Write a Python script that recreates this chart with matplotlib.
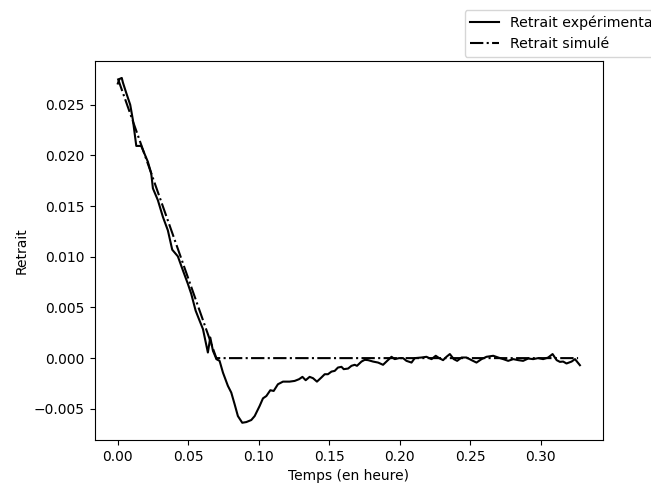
import matplotlib
matplotlib.use("Agg")
import matplotlib.pyplot as plt
import numpy as np

t_exp = [0.0, 0.0012, 0.0028, 0.0036, 0.006, 0.0088, 0.0107, 0.0131, 0.0166, 0.0178,
         0.0213, 0.0237, 0.0249, 0.0284, 0.032, 0.0355, 0.0386, 0.0426, 0.0462, 0.0497,
         0.0521, 0.0552, 0.058, 0.0604, 0.0639, 0.0656, 0.0675, 0.0694, 0.0699, 0.0722,
         0.0746, 0.0781, 0.0805, 0.0829, 0.0852, 0.0883, 0.0912, 0.0947, 0.0971, 0.1006,
         0.103, 0.1054, 0.1082, 0.1106, 0.1136, 0.1172, 0.1219, 0.1255, 0.1286, 0.131,
         0.1333, 0.1361, 0.1385, 0.1413, 0.1444, 0.1468, 0.1491, 0.1516, 0.1539, 0.1562,
         0.1587, 0.1603, 0.1634, 0.1658, 0.1681, 0.1697, 0.1729, 0.1752, 0.1776, 0.1811,
         0.1847, 0.1882, 0.1906, 0.1942, 0.1965, 0.1996, 0.2024, 0.2048, 0.2084, 0.2107,
         0.2155, 0.219, 0.2226, 0.2256, 0.228, 0.2308, 0.2332, 0.2356, 0.2384, 0.2408,
         0.2439, 0.2474, 0.251, 0.2545, 0.2581, 0.2616, 0.2664, 0.2699, 0.2735, 0.277,
         0.2806, 0.2841, 0.2876, 0.2912, 0.2947, 0.2983, 0.3018, 0.3054, 0.3085, 0.3114,
         0.3137, 0.316, 0.3184, 0.322, 0.3244, 0.3279]
r_exp = [0.0271, 0.02755, 0.02765, 0.0272, 0.02616, 0.025, 0.0235, 0.02094, 0.02094, 0.02054,
         0.01938, 0.01823, 0.01675, 0.01559, 0.01393, 0.01261, 0.0107, 0.01004, 0.00865, 0.00733,
         0.00634, 0.00469, 0.0037, 0.00287, 0.00055, 0.00204, 0.00072, 0.0001, -0.0001, -0.00027,
         -0.00143, -0.00274, -0.0034, -0.00456, -0.00572, -0.00638, -0.00631, -0.00611, -0.00572, -0.00473,
         -0.00397, -0.00374, -0.00317, -0.00324, -0.00258, -0.00232, -0.00232, -0.00225, -0.00208, -0.00185,
         -0.00218, -0.00185, -0.00198, -0.00232, -0.00192, -0.00159, -0.00159, -0.00133, -0.00126, -0.00093,
         -0.00086, -0.00109, -0.00103, -0.00076, -0.00066, -0.00076, -0.00034, -0.00017, -0.0002, -0.00034,
         -0.00044, -0.00066, -0.00034, 0.00013, -0.0001, 0.0, 0.0, -0.00027, -0.00044, 0.0,
         0.00006, 0.00013, -0.0001, 0.00023, 0.0, -0.0002, 0.00013, 0.0004, -0.0001, -0.00027,
         0.00006, 0.00006, -0.0002, -0.00044, -0.0001, 0.00013, 0.00023, 0.00006, -0.0001, -0.00027,
         -0.0001, -0.0002, -0.00027, -0.00004, -0.0001, 0.0, -0.0001, 0.00006, 0.0004, -0.0002,
         -0.00037, -0.00034, -0.00053, -0.00034, -0.0001, -0.0007]

# Retrait simule
t_sim = [0.0, 0.0699, 0.3266]
r_sim = [0.0276, 0.0, 0.0]

fig = plt.figure(figsize=(6.51, 4.84), dpi=100)
ax = fig.add_axes([0.1455, 0.0909, 0.7808, 0.7837])
ax.plot(t_exp, r_exp, 'k-', lw=1.5, label='Retrait expérimental')
ax.plot(t_sim, r_sim, 'k-.', lw=1.5, label='Retrait simulé')
ax.set_xlabel('Temps (en heure)')
ax.set_ylabel('Retrait')
# legende qui deborde a droite comme dans l'original
fig.legend(loc='upper left', bbox_to_anchor=(464.5 / 651, 1 - 10 / 484),
           borderaxespad=0, fontsize=10.2)
fig.savefig('out.png', dpi=100)
